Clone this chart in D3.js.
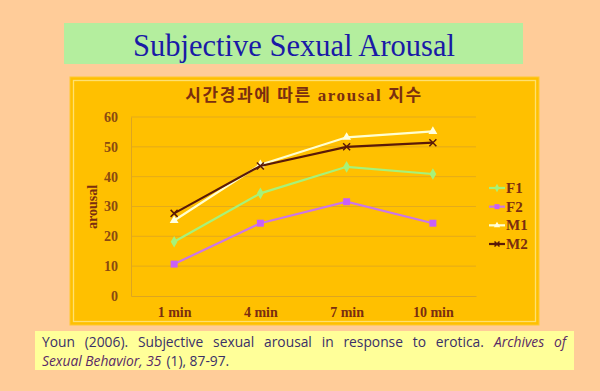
<!DOCTYPE html>
<html><head><meta charset="utf-8">
<script src="https://cdn.jsdelivr.net/npm/d3@7"></script>
<style>
html,body{margin:0;padding:0;background:#FFCC99;}
svg{display:block;}
</style></head>
<body>
<svg id="c" width="600" height="391"></svg>
<script>
const categories = ["1 min", "4 min", "7 min", "10 min"];
const seriesNames = ["F1", "F2", "M1", "M2"];
const F1 = [18.2, 34.4, 43.3, 40.9];
const F2 = [10.7, 24.4, 31.6, 24.4];
const M1 = [25.3, 44.0, 53.2, 55.2];
const M2 = [27.7, 43.6, 50.0, 51.4];
const yTicks = [0, 10, 20, 30, 40, 50, 60];
const seriesValues = [F1, F2, M1, M2];
const seriesColors = ["#A6F27A", "#CC77E6", "#FFFFD0", "#5A1A08"];
const markerColors = ["#A6F27A", "#C860F8", "#FFFFE0", "#5A1A08"];
const markerTypes = ["diamond", "square", "triangle", "x"];

const svg = d3.select("#c");
svg.append("rect").attr("width",600).attr("height",391).attr("fill","#FFCC99");

// main title
svg.append("rect").attr("x",64).attr("y",23).attr("width",459).attr("height",41).attr("fill","#B4EE9E");
svg.append("text").attr("x",294).attr("y",56).attr("text-anchor","middle")
  .attr("font-family","Liberation Serif, Times New Roman, serif").attr("font-size",30.5)
  .attr("fill","#1A1AA6").text("Subjective Sexual Arousal");

// chart frame
svg.append("rect").attr("x",70).attr("y",77).attr("width",469).attr("height",248).attr("fill","#FFC000").attr("stroke","#FFC830").attr("stroke-width",1);
svg.append("rect").attr("x",73.5).attr("y",80.5).attr("width",462).attr("height",241).attr("fill","none").attr("stroke","#FFE070").attr("stroke-width",1.3);

const brown = "#7A2E10";
svg.append("text").attr("x",304).attr("y",101).attr("text-anchor","middle")
  .attr("font-family","Liberation Serif, Noto Sans CJK KR, serif").attr("font-weight","bold").attr("font-size",17)
  .attr("letter-spacing",1.6)
  .attr("fill",brown).text("시간경과에 따른 arousal 지수");

const x = d3.scalePoint().domain(categories).range([131,476]).padding(0.5);
const y = d3.scaleLinear().domain([0,60]).range([296,117]);

const gridColor = "#DDA520";
// grid
svg.append("g").selectAll("line").data(yTicks.filter(d=>d>0)).join("line")
  .attr("x1",131).attr("x2",476).attr("y1",d=>y(d)).attr("y2",d=>y(d))
  .attr("stroke",gridColor).attr("stroke-opacity",0.8).attr("stroke-width",1);

// axes
const yAxis = svg.append("g").attr("transform","translate(131,0)")
  .call(d3.axisLeft(y).tickValues(yTicks).tickSize(0).tickPadding(13));
const xAxis = svg.append("g").attr("transform","translate(0,296)")
  .call(d3.axisBottom(x).tickSize(0).tickPadding(11));
[yAxis,xAxis].forEach(a=>{
  a.select(".domain").attr("stroke",gridColor).attr("stroke-width",1);
  a.selectAll("text").attr("font-family","Liberation Serif, serif").attr("font-weight","bold")
   .attr("font-size",14).attr("fill","#8A4A10");
});
xAxis.selectAll("text").attr("fill",brown);

svg.append("text").attr("transform","translate(97,207) rotate(-90)").attr("text-anchor","middle")
  .attr("font-family","Liberation Serif, serif").attr("font-weight","bold").attr("font-size",14)
  .attr("fill",brown).text("arousal");

function marker(g, type, color, size){
  if(type==="diamond"){
    g.append("path").attr("d",d3.symbol(d3.symbolDiamond, size*size*0.8)()).attr("fill",color);
  } else if(type==="square"){
    g.append("rect").attr("x",-size/2).attr("y",-size/2).attr("width",size).attr("height",size).attr("fill",color);
  } else if(type==="triangle"){
    g.append("path").attr("d",d3.symbol(d3.symbolTriangle, size*size*0.7)()).attr("fill",color);
  } else {
    const s=size/2;
    g.append("path").attr("d",`M${-s},${-s}L${s},${s}M${-s},${s}L${s},${-s}`).attr("stroke",color).attr("stroke-width",1.5);
  }
}

const line = d3.line().x((d,i)=>x(categories[i])).y(d=>y(d));
seriesValues.forEach((vals,si)=>{
  svg.append("path").datum(vals).attr("d",line).attr("fill","none")
    .attr("stroke",seriesColors[si]).attr("stroke-width",2.2);
  vals.forEach((v,i)=>{
    const g = svg.append("g").attr("transform",`translate(${x(categories[i])},${y(v)})`);
    marker(g, markerTypes[si], markerColors[si], 7);
  });
});

// legend
const legY = d3.scalePoint().domain(seriesNames).range([188,244]);
seriesNames.forEach((n,si)=>{
  const ly = legY(n);
  svg.append("line").attr("x1",489).attr("x2",505).attr("y1",ly).attr("y2",ly)
    .attr("stroke",seriesColors[si]).attr("stroke-width",2.2);
  const g = svg.append("g").attr("transform",`translate(497,${ly})`);
  marker(g, markerTypes[si], markerColors[si], 5);
  svg.append("text").attr("x",506).attr("y",ly+5).attr("font-family","Liberation Serif, serif")
    .attr("font-weight","bold").attr("font-size",15).attr("fill",brown).text(n);
});

// citation
svg.append("rect").attr("x",35).attr("y",331).attr("width",539).attr("height",39).attr("fill","#FFFF99");
const citeFont = "Open Sans, Lato, sans-serif";
const fs = 13.8;
const L1y = 346.5, L2y = 366;
const words1 = "Youn (2006). Subjective sexual arousal in response to erotica.";
const a1 = svg.append("text").attr("x",42).attr("y",L1y).attr("font-family",citeFont).attr("font-size",fs)
  .attr("fill","#3A3068").text(words1);
const it1 = svg.append("text").attr("y",L1y).attr("font-family",citeFont).attr("font-size",fs)
  .attr("font-style","italic").attr("fill","#5A2A66").text("Archives of");
// justify line 1 between x=42 and x=566
const wA = a1.node().getComputedTextLength();
const wB = it1.node().getComputedTextLength();
const spaces = (words1.match(/ /g)||[]).length + 2; // + gap to italic (as 1 space ~ plus one inside italic)
const extra = (566 - 42 - wA - wB - 4) / spaces;
a1.attr("word-spacing", extra);
it1.attr("word-spacing", extra);
const wA2 = a1.node().getComputedTextLength();
it1.attr("text-anchor","end").attr("x",566);
const a2 = svg.append("text").attr("x",42).attr("y",L2y).attr("font-family",citeFont).attr("font-size",fs)
  .attr("font-style","italic").attr("fill","#5A2A66").text("Sexual Behavior, 35");
const w2 = a2.node().getComputedTextLength();
svg.append("text").attr("x",42 + w2 + 5).attr("y",L2y).attr("font-family",citeFont).attr("font-size",fs)
  .attr("fill","#3A3068").text("(1), 87-97.");
</script>
</body></html>
